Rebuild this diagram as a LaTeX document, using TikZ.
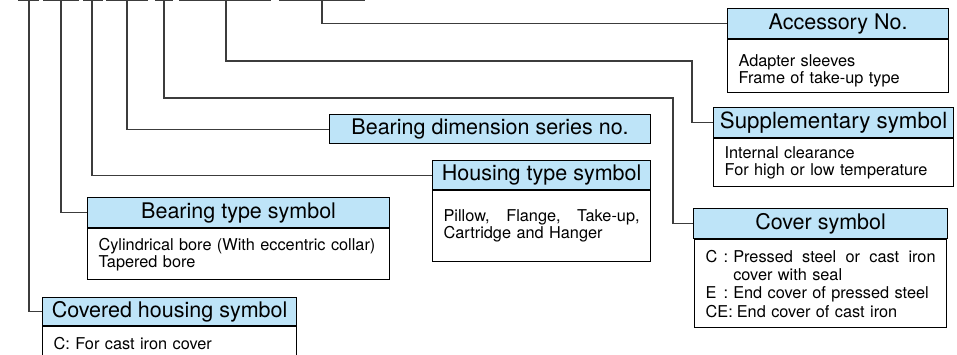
\documentclass[tikz,border=0pt]{standalone}
\usepackage{fontspec}
\setmainfont{TeX Gyre Heros}
\usetikzlibrary{positioning}
\definecolor{headblue}{RGB}{190,228,248}
\definecolor{leadgray}{RGB}{60,60,60}

\begin{document}
\begin{tikzpicture}[x = 1pt, y = -1pt,
		head/.style = {draw = black, fill = headblue, line width = 1.2pt, anchor = north west, inner sep = 0pt, font = \fontsize{21.5}{23}\selectfont},
		body/.style = {draw = black, fill = white, line width = 1.2pt, below = 0pt of #1, inner xsep = 11pt, inner ysep = 0pt, align = left, font = \fontsize{16.3}{17}\selectfont},
		lead/.style = {draw = leadgray, line width = 1.1pt}]
		\clip (0, 0) rectangle (957, 355);
		% symbol places along the top
		\foreach \a/\b in {18/39, 43/79, 83/103, 106/148, 155/173, 179/271, 279/365}{
			\draw[leadgray, line width = 2.6pt] (\a, 0) -- (\b, 0);}
		\foreach \x/\n in {29/chs, 61/typ, 92/hou, 127/dim, 164/cov, 226/sup, 322/acc}{
			\coordinate (top\n) at (\x, 0);}
		\coordinate (bendsup) at (692, 61);
		\coordinate (bendcov) at (673, 98);
		% boxes
		\node[head, minimum width = 221pt, minimum height = 30pt] (acc) at (727, 8) {Accessory No.};
		\node[body = acc, text width = 199pt, minimum height = 53pt] (accb) {\rule{0pt}{20pt}Adapter sleeves\\Frame of take-up type};
		\node[head, minimum width = 240pt, minimum height = 30pt, font = \fontsize{22.3}{24}\selectfont] (sup) at (713, 107) {Supplementary symbol};
		\node[body = sup, text width = 218pt, minimum height = 48pt] (supb) {Internal clearance\\For high or low temperature};
		\node[head, minimum width = 254pt, minimum height = 30pt] (cov) at (693, 208) {Cover symbol};
		\node[body = cov, text width = 230pt, minimum height = 88pt, font = \fontsize{16.3}{18.3}\selectfont] (covb)
			{\makebox[1.7em][l]{\makebox[1.1em][l]{C}:}\hbox to \dimexpr230pt-1.7em\relax{Pressed\hfill steel\hfill or\hfill cast\hfill iron}\\
			\hspace*{1.7em}cover with seal\\
			\makebox[1.7em][l]{\makebox[1.1em][l]{E}:}End cover of pressed steel\\
			CE:\hspace{0.25em}End cover of cast iron};
		\node[head, minimum width = 321pt, minimum height = 29pt] (dim) at (329, 114) {Bearing dimension series no.};
		\node[head, minimum width = 218pt, minimum height = 29pt] (hou) at (432, 160) {Housing type symbol};
		\node[body = hou, text width = 196pt, minimum height = 71pt] (houb) {\hbox to 196pt{Pillow,\hfill Flange,\hfill Take-up,}\\Cartridge and Hanger};
		\node[head, minimum width = 302pt, minimum height = 30pt] (typ) at (87, 197) {Bearing type symbol};
		\node[body = typ, text width = 280pt, minimum height = 51pt] (typb) {Cylindrical bore (With eccentric collar)\\Tapered bore};
		\node[head, minimum width = 254pt, minimum height = 28pt] (chs) at (42, 297) {Covered housing symbol};
		\node[body = chs, text width = 232pt, minimum height = 33pt] (chsb) {C: For cast iron cover};
		% leader lines
		\foreach \n in {chs, typ, hou, dim, acc}{
			\draw[lead] (top\n) |- (\n.west);}
		\draw[lead] (topsup) |- (bendsup) |- (sup.west);
		\draw[lead] (topcov) |- (bendcov) |- (cov.west);
\end{tikzpicture}
\end{document}
